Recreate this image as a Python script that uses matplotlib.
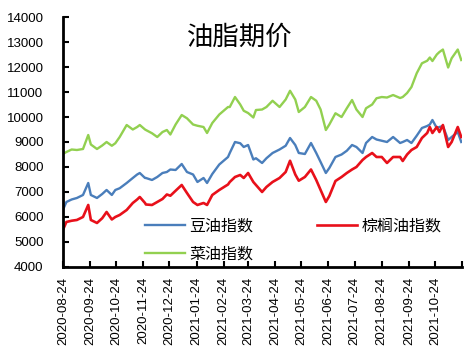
import matplotlib
matplotlib.use("Agg")
import matplotlib.pyplot as plt
import pandas as pd

plt.rcParams["font.family"] = ["Noto Sans CJK SC", "DejaVu Sans"]

dates = [
    "2020-08-24", "2020-08-28", "2020-09-03", "2020-09-09", "2020-09-16", "2020-09-22",
    "2020-09-25", "2020-10-02", "2020-10-08", "2020-10-13", "2020-10-19", "2020-10-23",
    "2020-10-28", "2020-11-05", "2020-11-12", "2020-11-17", "2020-11-20", "2020-11-26",
    "2020-11-27", "2020-12-04", "2020-12-10", "2020-12-16", "2020-12-21", "2020-12-25",
    "2020-12-31", "2021-01-07", "2021-01-13", "2021-01-20", "2021-01-25", "2021-02-01",
    "2021-02-05", "2021-02-11", "2021-02-19", "2021-03-01", "2021-03-03", "2021-03-09",
    "2021-03-15", "2021-03-19", "2021-03-24", "2021-03-30", "2021-04-02", "2021-04-09",
    "2021-04-14", "2021-04-21", "2021-04-29", "2021-05-06", "2021-05-11", "2021-05-17",
    "2021-05-21", "2021-05-28", "2021-06-04", "2021-06-10", "2021-06-15", "2021-06-21",
    "2021-06-25", "2021-07-02", "2021-07-09", "2021-07-15", "2021-07-21", "2021-07-26",
    "2021-08-02", "2021-08-06", "2021-08-13", "2021-08-18", "2021-08-24", "2021-08-30",
    "2021-09-06", "2021-09-14", "2021-09-17", "2021-09-22", "2021-09-27", "2021-10-03",
    "2021-10-09", "2021-10-15", "2021-10-18", "2021-10-21", "2021-10-26", "2021-10-29",
    "2021-11-02", "2021-11-08", "2021-11-12", "2021-11-19", "2021-11-23",
]

soybean = [
    6280, 6600, 6700, 6760, 6880, 7360, 6880, 6760, 6920, 7080, 6880, 7080,
    7150, 7360, 7560, 7700, 7760, 7560, 7560, 7480, 7600, 7760, 7800, 7900,
    7880, 8120, 7800, 7700, 7400, 7560, 7360, 7720, 8100, 8400, 8560, 9000,
    8950, 8800, 8880, 8300, 8350, 8160, 8350, 8560, 8700, 8850, 9160, 8880,
    8560, 8520, 8960, 8560, 8200, 7760, 7960, 8400, 8500, 8650, 8880, 8800,
    8560, 8960, 9200, 9100, 9050, 9000, 9200, 8960, 9000, 9080, 8960, 9250,
    9560, 9640, 9700, 9880, 9560, 9600, 9640, 9080, 9200, 9400, 9000,
]

palm = [
    5480, 5800, 5850, 5880, 6000, 6480, 5880, 5760, 5950, 6200, 5900, 6000,
    6080, 6280, 6560, 6700, 6800, 6560, 6500, 6480, 6600, 6720, 6900, 6850,
    7050, 7280, 6960, 6600, 6480, 6560, 6480, 6880, 7080, 7300, 7400, 7600,
    7680, 7560, 7760, 7400, 7280, 7000, 7200, 7400, 7560, 7800, 8250, 7700,
    7450, 7600, 7900, 7480, 7080, 6600, 6840, 7440, 7600, 7760, 7900, 8000,
    8280, 8400, 8560, 8400, 8400, 8160, 8400, 8400, 8240, 8500, 8680, 8800,
    9160, 9360, 9600, 9360, 9600, 9400, 9680, 8800, 9000, 9600, 9200,
]

rapeseed = [
    8520, 8600, 8700, 8680, 8720, 9280, 8900, 8720, 8860, 9000, 8850, 8950,
    9200, 9680, 9500, 9600, 9680, 9500, 9480, 9350, 9200, 9400, 9480, 9300,
    9700, 10080, 9950, 9700, 9650, 9600, 9360, 9760, 10100, 10400, 10400, 10800,
    10500, 10250, 10160, 9980, 10280, 10300, 10400, 10650, 10400, 10700, 11050, 10700,
    10200, 10400, 10800, 10650, 10300, 9480, 9700, 10150, 10000, 10350, 10680, 10300,
    10000, 10350, 10500, 10750, 10800, 10780, 10880, 10760, 10800, 10960, 11200, 11750,
    12150, 12250, 12380, 12240, 12500, 12600, 12700, 11980, 12350, 12700, 12280,
]

tick_dates = [
    "2020-08-24", "2020-09-24", "2020-10-24", "2020-11-24", "2020-12-24",
    "2021-01-24", "2021-02-24", "2021-03-24", "2021-04-24", "2021-05-24",
    "2021-06-24", "2021-07-24", "2021-08-24", "2021-09-24", "2021-10-24",
]
x_end = "2021-11-24"

series_names = ["豆油指数", "菜油指数", "棕榈油指数"]
colors = ["#4A7EBB", "#92D050", "#E8101A"]

x = pd.to_datetime(dates)

fig = plt.figure(figsize=(4.73, 3.55), dpi=100)
ax = fig.add_axes([0.133, 0.248, 0.844, 0.704])

ax.plot(x, soybean, color=colors[0], lw=1.7, label=series_names[0])
ax.plot(x, rapeseed, color=colors[1], lw=1.7, label=series_names[1])
ax.plot(x, palm, color=colors[2], lw=1.9, label=series_names[2])

ax.set_ylim(4000, 14000)
ax.set_yticks(range(4000, 14001, 1000))
ax.set_xlim(pd.Timestamp(tick_dates[0]), pd.Timestamp(x_end))
ticks = pd.to_datetime(tick_dates + [x_end])
ax.set_xticks(ticks)
ax.set_xticklabels(tick_dates + [""], rotation=90, family="Liberation Sans", fontsize=9.5)
for lab in ax.get_yticklabels():
    lab.set_family("Liberation Sans")
    lab.set_fontsize(9.5)

for side in ["top", "right"]:
    ax.spines[side].set_visible(False)
for side in ["left", "bottom"]:
    ax.spines[side].set_linewidth(2)
ax.tick_params(direction="in", length=4, width=1.5)
ax.tick_params(axis="y", pad=14)
ax.tick_params(axis="x", pad=7)

ax.text(0.444, 0.92, "油脂期价", transform=ax.transAxes, ha="center", va="center", fontsize=19)

ax.legend(ncol=2, loc="upper left", bbox_to_anchor=(0.205, 0.197), frameon=False,
          fontsize=11.5, handlelength=2.5, handletextpad=0.3, columnspacing=4.0,
          labelspacing=0.65, borderpad=0, borderaxespad=0)

fig.savefig("out.png", dpi=100)
